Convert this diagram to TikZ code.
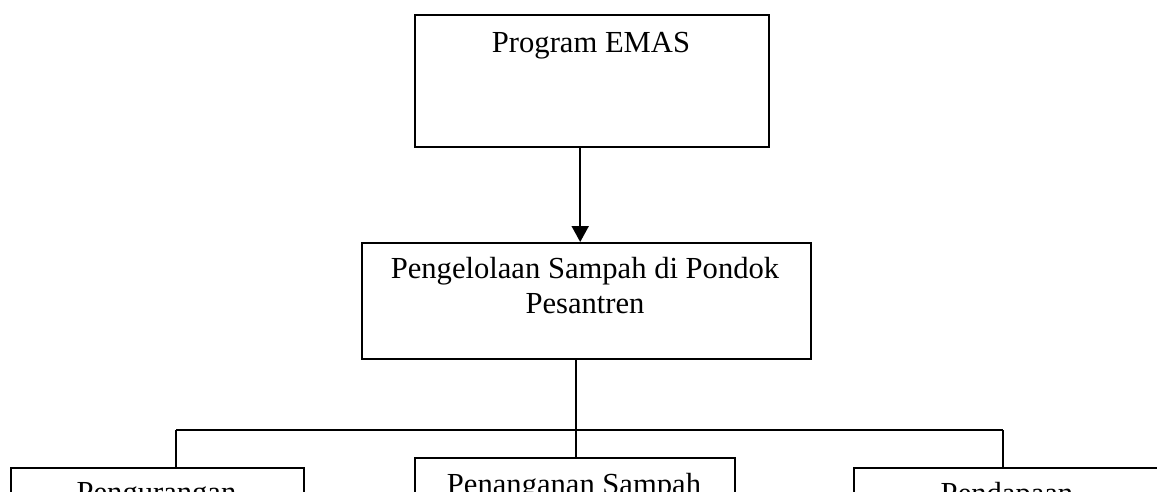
\documentclass[tikz,border=0pt]{standalone}
\usepackage{fontspec}
\setmainfont{Liberation Serif}
\usetikzlibrary{arrows.meta,calc}
\begin{document}
\begin{tikzpicture}[x=0.5pt,y=-0.5pt,
  box/.style={draw, line width=1.2pt, rectangle, inner sep=0pt, anchor=north west},
  lbl/.style={anchor=north, inner sep=0pt, align=center, font=\fontsize{15.3pt}{17.5pt}\selectfont},
  conn/.style={line width=1pt},
  arr/.style={line width=1pt, -{Triangle[length=8pt,width=8.5pt]}}]
\useasboundingbox (0,0) rectangle (1157,492);
\clip (0,0) rectangle (1157,492);
% boxes
\node[box, minimum width=177pt, minimum height=66pt] (b1) at (414,14) {};
\node[box, minimum width=224.5pt, minimum height=58pt] (b2) at (361,242) {};
\node[box, minimum width=146.5pt, minimum height=50pt] (bl) at (10,467) {};
\node[box, minimum width=160pt, minimum height=55pt] (bm) at (414,457) {};
\node[box, minimum width=154pt, minimum height=50pt] (br) at (853,467) {};
% labels
\node[lbl] (t1) at (591,32) {Program EMAS};
\node[lbl] (t2) at (585,257) {Pengelolaan Sampah di Pondok\\Pesantren};
\node[lbl] (tl) at (156.5,482) {Pengurangan};
\node[lbl] (tm) at (574,473) {Penanganan Sampah};
\node[lbl] (tr) at (1007,482) {Pendapaan};
% connectors
\draw[arr] ([xshift=-6pt]b1.south) -- ([xshift=-3.25pt]b2.north);
\coordinate (jm) at (576,430);
\coordinate (jl) at (176,430);
\coordinate (jr) at (1003,430);
\draw[conn] (jm |- b2.south) -- (jm |- bm.north);
\draw[conn] (jl) -- (jr);
\draw[conn] (jl) -- (jl |- bl.north);
\draw[conn] (jr) -- (jr |- br.north);
\end{tikzpicture}
\end{document}
